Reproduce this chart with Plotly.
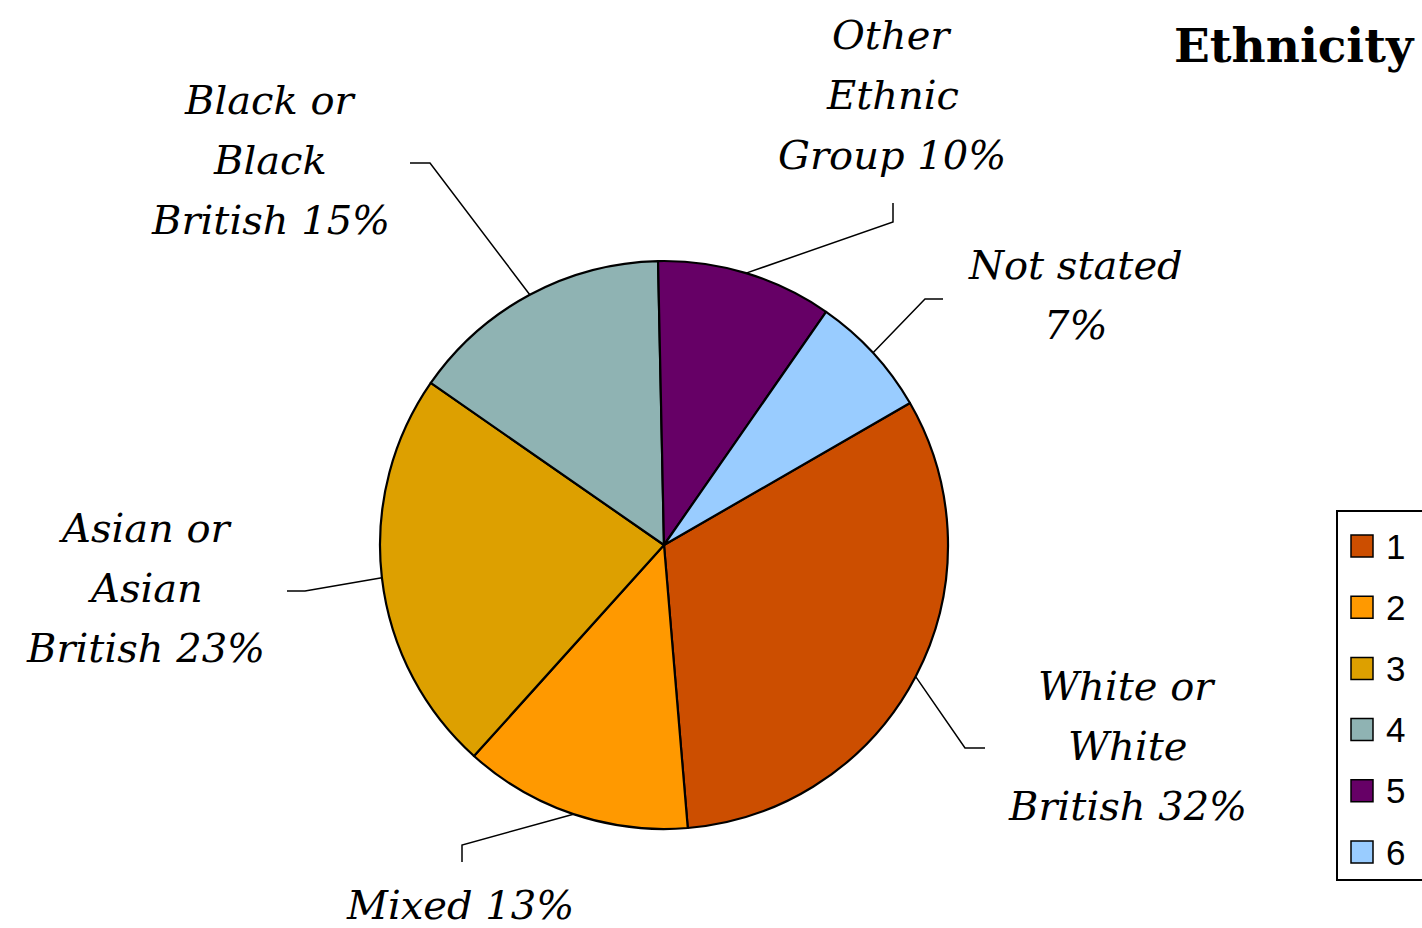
import math
import plotly.graph_objects as go

# ---- data ----
legend_labels = ["1", "2", "3", "4", "5", "6"]
category_names = [
    ["White or", "White", "British"],
    ["Mixed"],
    ["Asian or", "Asian", "British"],
    ["Black or", "Black", "British"],
    ["Other", "Ethnic", "Group"],
    ["Not stated"],
]
percent_values = [32, 13, 23, 15, 10, 7]
slice_colors = ["#CC4E00", "#FF9900", "#DDA000", "#8FB3B3", "#660066", "#99CCFF"]

# ---- layout constants ----
W, H = 1422, 928
CX, CY, R = 664, 545, 284
START_ANGLE = 60

def px(x):
    return x / W

def py(y):
    return 1 - y / H

fig = go.Figure()
fig.add_trace(go.Pie(
    labels=legend_labels,
    values=percent_values,
    sort=False,
    direction="clockwise",
    rotation=START_ANGLE,
    marker=dict(colors=slice_colors, line=dict(color="black", width=2.2)),
    textinfo="none",
    hoverinfo="label+percent",
    showlegend=False,
    domain=dict(x=[px(CX - R), px(CX + R)], y=[py(CY + R), py(CY - R)]),
))

# label placement (center x, first line y) and leader-line elbows
label_pos = [(1127, 686), (460, 905), (145, 528), (270, 100), (892, 35), (1075, 265)]
elbows = [
    [(965, 748), (985, 748)],
    [(462, 845), (462, 862)],
    [(305, 591), (287, 591)],
    [(430, 163), (410, 163)],
    [(893, 222), (893, 203)],
    [(925, 299), (943, 299)],
]
LINE_GAP = 60
label_font = dict(family="DejaVu Serif", size=40, style="italic", color="black")

total = sum(percent_values)
cum = 0.0
annotations = []
shapes = []
for i, v in enumerate(percent_values):
    mid = START_ANGLE + 360.0 * (cum + v / 2) / total
    cum += v
    a = math.radians(mid)
    ex, ey = CX + R * math.sin(a), CY - R * math.cos(a)
    pts = [(ex, ey)] + elbows[i]
    path = "M " + " L ".join(f"{px(x)},{py(y)}" for x, y in pts)
    shapes.append(dict(type="path", path=path, xref="paper", yref="paper",
                       line=dict(color="black", width=1.5)))
    lines = list(category_names[i])
    if i == 5:
        lines = lines + [f"{v}%"]
    else:
        lines[-1] = lines[-1] + f" {v}%"
    lx, ly = label_pos[i]
    for k, t in enumerate(lines):
        annotations.append(dict(text=t, x=px(lx), y=py(ly + k * LINE_GAP), xref="paper", yref="paper",
                                showarrow=False, xanchor="center", yanchor="middle", font=label_font))

# title
annotations.append(dict(text="<b>Ethnicity</b>", x=px(1417), y=py(45), xref="paper", yref="paper",
                        showarrow=False, xanchor="right", yanchor="middle",
                        font=dict(family="DejaVu Serif", size=47, color="black")))

# legend (manual, built from labels/colors)
LEG_TOP, LEG_GAP = 546, 61.2
shapes.append(dict(type="rect", xref="paper", yref="paper", x0=px(1337), x1=px(1430),
                   y0=py(511), y1=py(880), line=dict(color="black", width=2), fillcolor="white", layer="below"))
for i, lab in enumerate(legend_labels):
    yc = LEG_TOP + i * LEG_GAP
    shapes.append(dict(type="rect", xref="paper", yref="paper", x0=px(1351), x1=px(1373),
                       y0=py(yc + 11), y1=py(yc - 11), line=dict(color="black", width=1.5),
                       fillcolor=slice_colors[i]))
    annotations.append(dict(text=lab, x=px(1384), y=py(yc), xref="paper", yref="paper",
                            showarrow=False, xanchor="left", yanchor="middle",
                            font=dict(family="Liberation Sans", size=35, color="black")))

fig.update_layout(
    width=W, height=H,
    margin=dict(l=0, r=0, t=0, b=0),
    paper_bgcolor="white", plot_bgcolor="white",
    shapes=shapes, annotations=annotations,
)
fig.write_html("out.html", config={"displayModeBar": False},
               post_script="document.body.style.margin='0px';document.body.style.overflow='hidden';")
